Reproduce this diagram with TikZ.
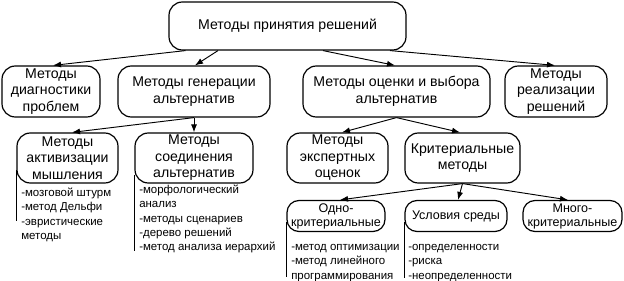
\documentclass[tikz,border=0pt]{standalone}
\usepackage{fontspec}
\setmainfont{Liberation Sans}
\usetikzlibrary{arrows.meta, positioning, calc}

\begin{document}
\begin{tikzpicture}[x=0.75pt, y=-0.75pt,
    box/.style={draw, line width=0.9pt, rounded corners=10pt, align=center, inner sep=1pt,
      font=\fontsize{10.6}{12.4}\selectfont},
    smallbox/.style={box, rounded corners=9pt, font=\fontsize{9.4}{10.5}\selectfont},
    items/.style={anchor=north west, align=left, inner sep=0pt, font=\fontsize{8.6}{10.6}\selectfont},
    arr/.style={-{Latex[length=6pt,width=4.5pt]}, line width=0.7pt},
    bar/.style={line width=0.7pt}]
  \useasboundingbox (0,0) rectangle (624,281);

  % first and second level
  \node[box, minimum width=177.75pt, minimum height=36pt] (top) at (287.5,26) {Методы принятия решений};
  \node[box, minimum width=73.5pt, minimum height=38.25pt] (diag) at (51,91.5) {Методы\\диагностики\\проблем};
  \node[box, minimum width=114pt, minimum height=38.25pt] (gen) at (194,91.5) {Методы генерации\\альтернатив};
  \node[box, minimum width=140.25pt, minimum height=38.25pt] (eval) at (396.5,91.5) {Методы оценки и выбора\\альтернатив};
  \node[box, minimum width=76.5pt, minimum height=38.25pt] (real) at (556,91.5) {Методы\\реализации\\решений};

  \draw[arr] ($(top.south)+(-102,0)$) -- ($(diag.north)+(2,0)$);
  \draw[arr] ($(top.south)+(-69.5,0)$) -- ($(gen.north)+(1,0)$);
  \draw[arr] ($(top.south)+(35.5,0)$) -- ($(eval.north)+(-1.5,0)$);
  \draw[arr] ($(top.south)+(102.5,0)$) -- ($(real.north)+(-1,0)$);

  % third level
  \node[box, minimum width=75.75pt, minimum height=37.5pt] (act) at (67.5,158) {Методы\\активизации\\мышления};
  \node[box, minimum width=88.5pt, minimum height=37.5pt] (comb) at (194,158) {Методы\\соединения\\альтернатив};
  \node[box, minimum width=75.75pt, minimum height=37.5pt] (exp) at (337.5,158) {Методы\\экспертных\\оценок};
  \node[box, minimum width=86.25pt, minimum height=37.5pt] (crit) at (462.5,158) {Критериальные\\методы};

  \draw[arr] (gen.south) -- ($(act.north)+(4.5,0)$);
  \draw[arr] (gen.south) -- (comb.north);
  \draw[arr] (eval.south) -- ($(exp.north)+(4.5,0)$);
  \draw[arr] (eval.south) -- ($(crit.north)+(-2.5,0)$);

  % criteria
  \node[smallbox, minimum width=73.5pt, minimum height=23.25pt] (one) at (336,216) {Одно-\\критериальные};
  \node[smallbox, minimum width=76.5pt, minimum height=23.25pt] (env) at (456,216) {Условия среды};
  \node[smallbox, minimum width=74.25pt, minimum height=23.25pt] (multi) at (572.5,216) {Много-\\критериальные};

  \draw[arr] (crit.south) -- ($(one.north)+(4,0)$);
  \draw[arr] (crit.south) -- ($(env.north)+(2,0)$);
  \draw[arr] (crit.south) -- ($(multi.north)+(-4.5,0)$);

  % lists
  \node[items] (actlist) at (21,186.6) {\strut-мозговой штурм\\-метод Дельфи\\-эвристические\\методы};
  \node[items] (comblist) at (139,183.6) {\strut-морфологический\\анализ\\-методы сценариев\\-дерево решений\\-метод анализа иерархий};
  \node[items] (onelist) at (291,240.6) {\strut-метод оптимизации\\-метод линейного\\программирования};
  \node[items] (envlist) at (408,240.6) {\strut-определенности\\-риска\\-неопределенности};

  \draw[bar] ($(act.west)+(0,12)$) -- ($(act.west)+(0,63)$);
  \draw[bar] ($(comb.west)+(0,17)$) -- ($(comb.west)+(0,93)$);
  \draw[bar] ($(one.west)+(0,6)$) -- ($(one.west)+(0,61)$);
  \draw[bar] ($(env.west)+(0,6)$) -- ($(env.west)+(0,62)$);
\end{tikzpicture}
\end{document}
